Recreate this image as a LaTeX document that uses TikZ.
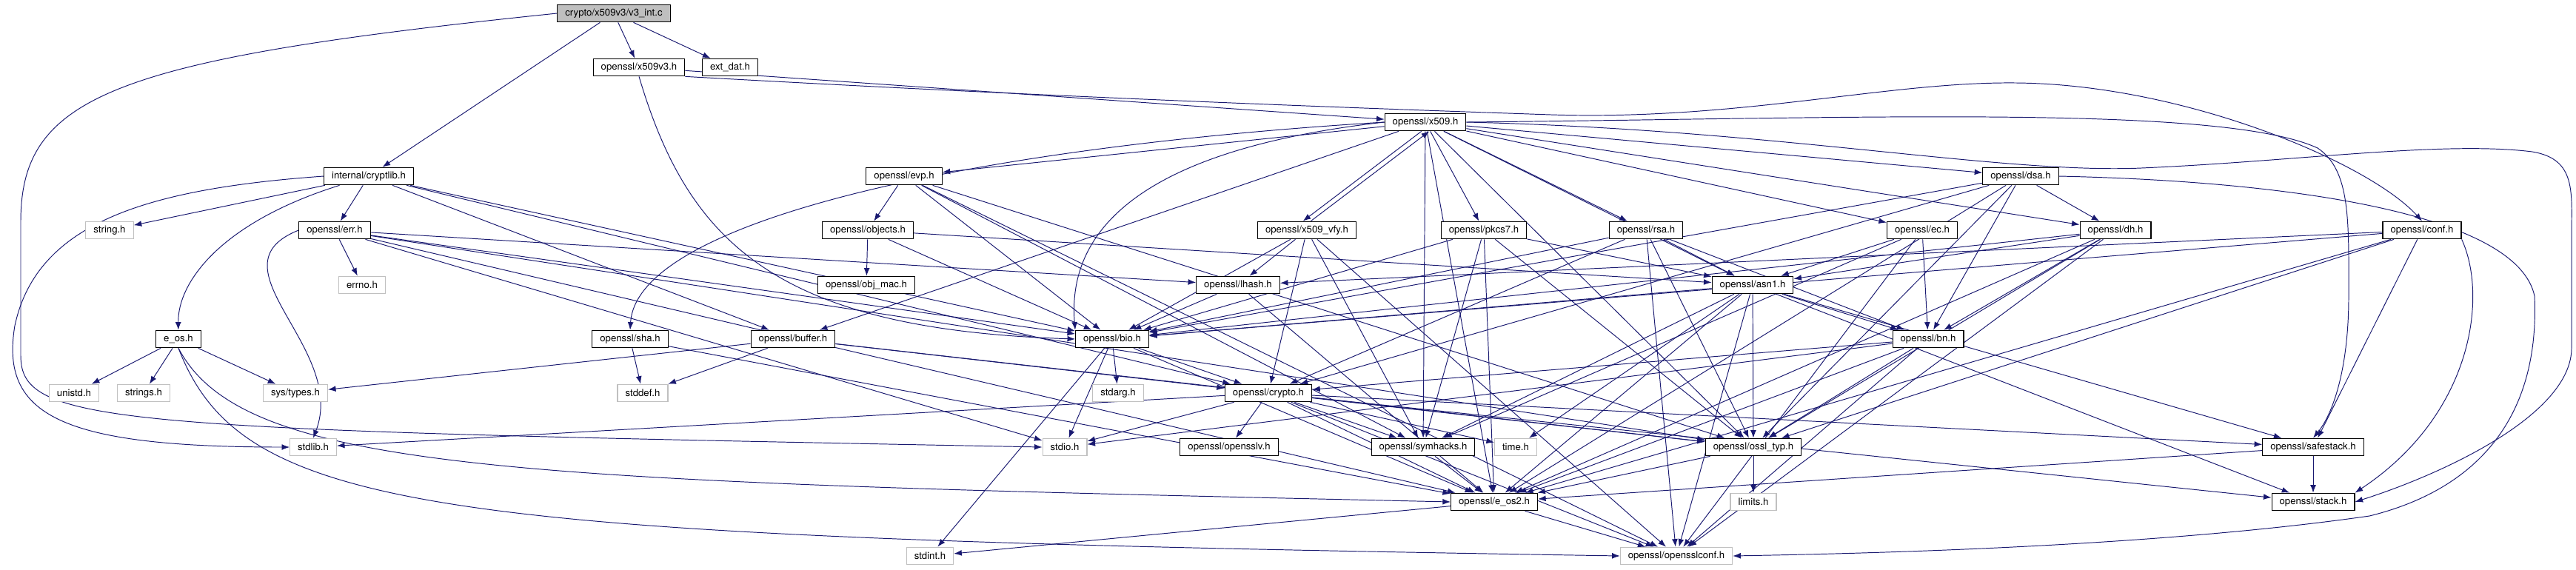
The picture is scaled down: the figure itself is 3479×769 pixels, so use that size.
\documentclass[tikz,border=0pt]{standalone}
\usepackage{fontspec}
\setmainfont{TeX Gyre Heros}
\usepackage{tikz}
\usetikzlibrary{arrows.meta, backgrounds}
\definecolor{EdgeBlue}{HTML}{191970}
\definecolor{RootGray}{HTML}{BFBFBF}
\definecolor{SysGray}{HTML}{C0C0C0}

\tikzset{
  hdr/.style={draw=black, line width=0.65pt, fill=white, inner xsep=6pt, inner ysep=0pt,
    minimum height=13.4pt, font=\fontsize{7.5}{9}\selectfont},
  syshdr/.style={hdr, draw=SysGray},
  srcfile/.style={hdr, fill=RootGray},
  dep/.style={EdgeBlue, line width=0.55pt, -{Latex[length=6pt, width=4.5pt]}},
}

\begin{document}
\begin{tikzpicture}[x=0.02cm, y=-0.02cm]
        \useasboundingbox (0,0) rectangle (3479,769);
        % Tầng 0 - 2
        \node[srcfile] (v3int) at (829,18) {crypto/x509v3/v3\_int.c};
        \node[hdr] (x509v3) at (863,91) {openssl/x509v3.h}; \node[hdr] (extdat) at (986,91) {ext\_dat.h};
        \node[hdr] (x509) at (1925,165) {openssl/x509.h};
        % Tầng 3
        \node[hdr] (cryptlib) at (498,238) {internal/cryptlib.h}; \node[hdr] (evp) at (1221,238) {openssl/evp.h};
        \node[hdr] (dsa) at (2729,238) {openssl/dsa.h};
        % Tầng 4
        \node[syshdr] (stringh) at (148,311) {string.h}; \node[hdr] (err) at (452,311) {openssl/err.h};
        \node[hdr] (objects) at (1172,311) {openssl/objects.h}; \node[hdr] (x509vfy) at (1765,311) {openssl/x509\_vfy.h};
        \node[hdr] (pkcs7) at (2004,311) {openssl/pkcs7.h}; \node[hdr] (rsa) at (2223,311) {openssl/rsa.h};
        \node[hdr] (ec) at (2596,311) {openssl/ec.h}; \node[hdr] (dh) at (2857,311) {openssl/dh.h};
        \node[hdr] (conf) at (3271,311) {openssl/conf.h};
        % Tầng 5
        \node[syshdr] (errno) at (489,385) {errno.h}; \node[hdr] (objmac) at (1170,385) {openssl/obj\_mac.h};
        \node[hdr] (lhash) at (1672,385) {openssl/lhash.h}; \node[hdr] (asn1) at (2367,385) {openssl/asn1.h};
        % Tầng 6
        \node[hdr] (eos) at (241,458) {e\_os.h}; \node[hdr] (sha) at (851,458) {openssl/sha.h};
        \node[hdr] (buffer) at (1071,458) {openssl/buffer.h}; \node[hdr] (bio) at (1502,458) {openssl/bio.h};
        \node[hdr] (bn) at (2604,458) {openssl/bn.h};
        % Tầng 7
        \node[syshdr] (unistd) at (100,531) {unistd.h}; \node[syshdr] (strings) at (194,531) {strings.h};
        \node[syshdr] (systypes) at (399,531) {sys/types.h}; \node[syshdr] (stddef) at (868,531) {stddef.h};
        \node[syshdr] (stdarg) at (1510,531) {stdarg.h}; \node[hdr] (crypto) at (1713,531) {openssl/crypto.h};
        % Tầng 8
        \node[syshdr] (stdlib) at (423,604) {stdlib.h}; \node[syshdr] (stdio) at (1438,604) {stdio.h};
        \node[hdr] (opensslv) at (1660,604) {openssl/opensslv.h}; \node[hdr] (symhacks) at (1922,604) {openssl/symhacks.h};
        \node[syshdr] (timeh) at (2047,604) {time.h}; \node[hdr] (ossltyp) at (2368,604) {openssl/ossl\_typ.h};
        \node[hdr] (safestack) at (3124,604) {openssl/safestack.h};
        % Tầng 9 - 10
        \node[hdr] (eos2) at (2018,678) {openssl/e\_os2.h}; \node[syshdr] (limits) at (2368,678) {limits.h};
        \node[hdr] (stack) at (3124,678) {openssl/stack.h};
        \node[syshdr] (stdint) at (1256,751) {stdint.h}; \node[syshdr] (opensslconf) at (2264,751) {openssl/opensslconf.h};

        \begin{scope}[on background layer]
        % v3_int.c
        \draw[dep] (v3int.west) .. controls (150,80) and (28,130) .. (28,300) -- (28,480) .. controls (28,575) and (150,580) .. (stdio.west);
        \draw[dep] (v3int) -- (cryptlib); \draw[dep] (v3int) -- (x509v3); \draw[dep] (v3int) -- (extdat);
        % x509v3.h
        \draw[dep] (x509v3) -- (x509);
        \draw[dep] (x509v3.south) .. controls (930,330) and (1050,445) .. (bio.west);
        \draw[dep] (x509v3.south east) .. controls (1400,130) and (1800,145) .. (2095,155) .. controls (2350,163) and (2550,110) .. (2723,112) .. controls (2950,114) and (3200,220) .. (conf.north);
        % x509.h
        \draw[dep] (x509) -- (evp); \draw[dep] (x509) -- (buffer);
        \draw[dep] (x509.west) .. controls (1560,200) and (1440,300) .. (bio.north west);
        \draw[dep] ([xshift=-3pt]x509.south) -- ([xshift=-3pt]x509vfy.north); \draw[dep] (x509) -- (pkcs7);
        \draw[dep] (x509) -- (rsa); \draw[dep] (x509) -- (asn1); \draw[dep] (x509) -- (ossltyp);
        \draw[dep] (x509) -- (symhacks); \draw[dep] (x509) -- (ec); \draw[dep] (x509) -- (dsa);
        \draw[dep] (x509) -- (dh); \draw[dep] (x509) -- (eos2);
        \draw[dep] (x509.west) .. controls (1300,200) and (860,300) .. (sha.north);
        \draw[dep] (x509.east) .. controls (2400,175) and (2700,235) .. (2892,227) .. controls (3100,218) and (3300,190) .. (3420,205) .. controls (3480,215) and (3473,260) .. (3473,320) -- (3473,470) .. controls (3473,560) and (3300,640) .. (stack.east);
        \draw[dep] (x509.east) .. controls (2500,160) and (3000,140) .. (3130,200) .. controls (3175,230) and (3172,300) .. (3172,400) .. controls (3172,500) and (3150,560) .. (safestack.north);
        % internal/cryptlib.h
        \draw[dep] (cryptlib.west) .. controls (200,255) and (50,300) .. (20,440) .. controls (0,560) and (80,604) .. (stdlib.west);
        \draw[dep] (cryptlib) -- (stringh); \draw[dep] (cryptlib) .. controls (300,300) and (240,380) .. (eos);
        \draw[dep] (cryptlib) -- (err); \draw[dep] (cryptlib) -- (crypto);
        \draw[dep] (cryptlib) -- (buffer); \draw[dep] (cryptlib) -- (bio);
        % evp.h, dsa.h
        \draw[dep] (evp) -- (objects); \draw[dep] (evp) -- (bio); \draw[dep] (evp) -- (ossltyp);
        \draw[dep] (evp) -- (symhacks); \draw[dep] (evp) -- (opensslconf);
        \draw[dep] (dsa) -- (eos2); \draw[dep] (dsa) -- (bio); \draw[dep] (dsa) -- (crypto);
        \draw[dep] (dsa) -- (ossltyp); \draw[dep] (dsa) -- (bn); \draw[dep] (dsa) -- (dh);
        \draw[dep] (dsa.east) .. controls (3100,245) and (3400,290) .. (3423,400) .. controls (3430,560) and (3350,660) .. (3200,697) .. controls (2900,740) and (2500,748) .. (opensslconf.east);
        % x509_vfy.h, pkcs7.h, rsa.h
        \draw[dep] ([xshift=3pt]x509vfy.north) -- ([xshift=3pt]x509.south);
        \draw[dep] (x509vfy) -- (lhash); \draw[dep] (x509vfy) -- (bio); \draw[dep] (x509vfy) -- (crypto);
        \draw[dep] (x509vfy) -- (symhacks); \draw[dep] (x509vfy) -- (opensslconf);
        \draw[dep] (pkcs7) -- (asn1); \draw[dep] (pkcs7) -- (bio); \draw[dep] (pkcs7) -- (eos2);
        \draw[dep] (pkcs7) -- (symhacks); \draw[dep] (pkcs7) -- (ossltyp);
        \draw[dep] (rsa) -- (opensslconf); \draw[dep] (rsa) -- (asn1); \draw[dep] (rsa) -- (bio);
        \draw[dep] (rsa) -- (crypto); \draw[dep] (rsa) -- (ossltyp); \draw[dep] (rsa) -- (bn);
        % ec.h, dh.h, conf.h
        \draw[dep] (ec) -- (opensslconf); \draw[dep] (ec) -- (asn1); \draw[dep] (ec) -- (symhacks); \draw[dep] (ec) -- (bn);
        \draw[dep] (dh) -- (eos2); \draw[dep] (dh) -- (opensslconf); \draw[dep] (dh) -- (asn1);
        \draw[dep] (dh) -- (ossltyp); \draw[dep] (dh) -- (bio); \draw[dep] (dh) -- (bn);
        \draw[dep] (conf) -- (bio); \draw[dep] (conf) -- (lhash); \draw[dep] (conf) -- (safestack);
        \draw[dep] (conf) -- (eos2); \draw[dep] (conf) -- (ossltyp);
        \draw[dep] (conf.south east) .. controls (3360,400) and (3340,560) .. (stack.north east);
        % err.h, objects.h, lhash.h
        \draw[dep] (err) -- (eos2); \draw[dep] (err) -- (stdio); \draw[dep] (err) -- (ossltyp);
        \draw[dep] (err) -- (bio); \draw[dep] (err) -- (lhash); \draw[dep] (err) -- (errno);
        \draw[dep] (err.west) .. controls (280,360) and (470,470) .. (stdlib.north);
        \draw[dep] (objects) -- (objmac); \draw[dep] (objects) -- (bio); \draw[dep] (objects) -- (asn1);
        \draw[dep] (lhash) -- (eos2); \draw[dep] (lhash) -- (bio);
        % asn1.h
        \draw[dep] (asn1) -- (timeh); \draw[dep] (asn1) -- (eos2); \draw[dep] (asn1) -- (opensslconf);
        \draw[dep] (asn1) -- (bio); \draw[dep] (asn1) -- (stack); \draw[dep] (asn1) -- (safestack);
        \draw[dep] (asn1) -- (symhacks); \draw[dep] (asn1) -- (ossltyp); \draw[dep] (asn1) -- (bn);
        % e_os.h, sha.h, buffer.h
        \draw[dep] (eos) -- (unistd); \draw[dep] (eos) -- (strings); \draw[dep] (eos) -- (systypes);
        \draw[dep] (eos.south) .. controls (330,640) and (700,650) .. (eos2.west);
        \draw[dep] (eos.south) .. controls (330,700) and (600,725) .. (opensslconf.west);
        \draw[dep] (sha) -- (eos2); \draw[dep] (sha) -- (stddef);
        \draw[dep] (buffer) -- (ossltyp); \draw[dep] (buffer) -- (crypto);
        \draw[dep] (buffer) -- (stddef); \draw[dep] (buffer) -- (systypes);
        % bio.h, bn.h
        \draw[dep] (bio) -- (eos2); \draw[dep] (bio) -- (stdio); \draw[dep] (bio) -- (stdarg);
        \draw[dep] (bio) -- (crypto); \draw[dep] (bio) -- (stdint);
        \draw[dep] (bn) -- (eos2); \draw[dep] (bn) -- (stdio); \draw[dep] (bn) -- (opensslconf);
        \draw[dep] (bn) -- (ossltyp); \draw[dep] (bn) -- (crypto);
        % crypto.h
        \draw[dep] (crypto) -- (stdlib); \draw[dep] (crypto) -- (timeh); \draw[dep] (crypto) -- (eos2);
        \draw[dep] (crypto) -- (stdio); \draw[dep] (crypto) -- (stack); \draw[dep] (crypto) -- (safestack);
        \draw[dep] (crypto) -- (opensslv); \draw[dep] (crypto) -- (ossltyp);
        \draw[dep] (crypto) -- (opensslconf); \draw[dep] (crypto) -- (symhacks);
        % lá
        \draw[dep] (symhacks) -- (eos2); \draw[dep] (ossltyp) -- (eos2); \draw[dep] (ossltyp) -- (limits);
        \draw[dep] (safestack) -- (stack); \draw[dep] (safestack) -- (eos2);
        \draw[dep] (eos2) -- (opensslconf); \draw[dep] (eos2) -- (stdint);
        \end{scope}
      \end{tikzpicture}
\end{document}
